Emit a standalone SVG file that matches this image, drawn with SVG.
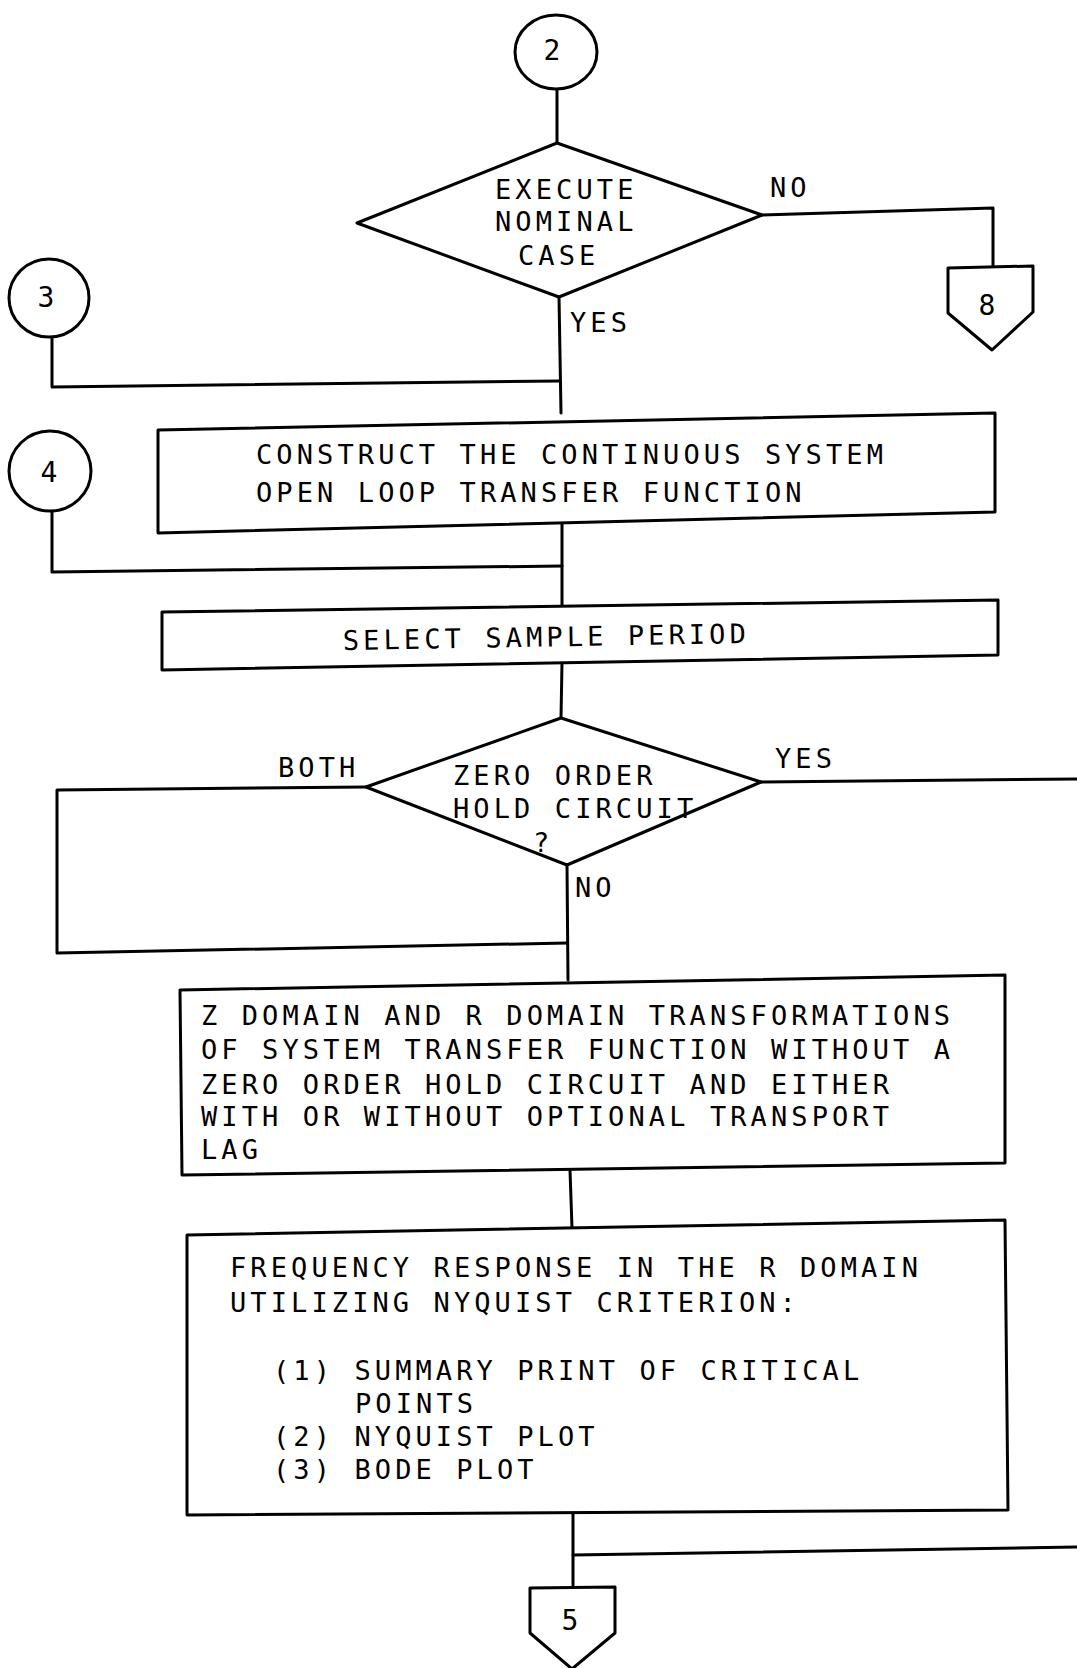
<svg xmlns="http://www.w3.org/2000/svg" width="1077" height="1668" viewBox="0 0 1077 1668">
<style>
.s{fill:none;stroke:#000;stroke-width:3;stroke-linejoin:round;stroke-linecap:round}
.n{fill:#fff;stroke:#000;stroke-width:3;stroke-linejoin:round}
.t{font-family:"DejaVu Sans Mono","Liberation Mono",monospace;font-size:27px;letter-spacing:4.1px;fill:#000}
.d{font-family:"DejaVu Sans Mono","Liberation Mono",monospace;font-size:28px;fill:#000;text-anchor:middle}
</style>
<rect width="1077" height="1668" fill="#fff"/>
<g id="connectors">
<path class="s" d="M557 88 L557 143"/>
<path class="s" d="M762 215 L993 208 L993 268"/>
<path class="s" d="M559 297 L561 413"/>
<path class="s" d="M52 337 L52 387 L560 381"/>
<path class="s" d="M52 512 L52 572 L562 566"/>
<path class="s" d="M562 524 L562 606"/>
<path class="s" d="M562 663 L561 718"/>
<path class="s" d="M761 782 L1077 779"/>
<path class="s" d="M366 787 L57 790 L57 953 L567 943"/>
<path class="s" d="M567 865 L568 980"/>
<path class="s" d="M570 1170 L572 1228"/>
<path class="s" d="M573 1513 L573 1588"/>
<path class="s" d="M573 1555 L1077 1547"/>
<text class="t" x="570" y="332">YES</text>
<text class="t" x="770" y="197">NO</text>
<text class="t" x="278" y="777">BOTH</text>
<text class="t" x="775" y="768">YES</text>
<text class="t" x="575" y="897">NO</text>
</g>
<g id="c2">
<ellipse class="n" cx="556" cy="52" rx="41" ry="37"/>
<text class="d" x="552" y="60" font-size="30">2</text>
</g>
<g id="d1">
<polygon class="n" points="557,143 762,215 559,297 357,223"/>
<text class="t" x="495" y="199">EXECUTE</text>
<text class="t" x="495" y="231">NOMINAL</text>
<text class="t" x="518" y="265">CASE</text>
</g>
<g id="c8">
<polygon class="n" points="948,268 1033,266 1033,312 992,350 948,313"/>
<text class="d" x="987" y="315" font-size="30">8</text>
</g>
<g id="c3">
<ellipse class="n" cx="49" cy="298" rx="40" ry="39"/>
<text class="d" x="46" y="307">3</text>
</g>
<g id="c4">
<ellipse class="n" cx="50" cy="471" rx="41" ry="40"/>
<text class="d" x="49" y="482">4</text>
</g>
<g id="b1">
<polygon class="n" points="158,430 995,413 995,512 158,533"/>
<text class="t" x="256" y="464">CONSTRUCT THE CONTINUOUS SYSTEM</text>
<text class="t" x="256" y="502">OPEN LOOP TRANSFER FUNCTION</text>
</g>
<g id="b2">
<polygon class="n" points="162,612 998,600 998,655 162,670"/>
<text class="t" x="343" y="650" transform="rotate(-1 345 650)">SELECT SAMPLE PERIOD</text>
</g>
<g id="d2">
<polygon class="n" points="561,718 761,782 567,865 366,787"/>
<text class="t" x="453" y="785">ZERO ORDER</text>
<text class="t" x="453" y="818">HOLD CIRCUIT</text>
<text class="t" x="533" y="852">?</text>
</g>
<g id="b3">
<polygon class="n" points="180,990 1005,975 1005,1163 182,1175"/>
<text class="t" x="201" y="1025">Z DOMAIN AND R DOMAIN TRANSFORMATIONS</text>
<text class="t" x="201" y="1059">OF SYSTEM TRANSFER FUNCTION WITHOUT A</text>
<text class="t" x="201" y="1094">ZERO ORDER HOLD CIRCUIT AND EITHER</text>
<text class="t" x="201" y="1126">WITH OR WITHOUT OPTIONAL TRANSPORT</text>
<text class="t" x="201" y="1159">LAG</text>
</g>
<g id="b4">
<polygon class="n" points="187,1235 1005,1220 1008,1510 187,1515"/>
<text class="t" x="230" y="1277">FREQUENCY RESPONSE IN THE R DOMAIN</text>
<text class="t" x="230" y="1312">UTILIZING NYQUIST CRITERION:</text>
<text class="t" x="273" y="1380">(1) SUMMARY PRINT OF CRITICAL</text>
<text class="t" x="355" y="1413">POINTS</text>
<text class="t" x="273" y="1446">(2) NYQUIST PLOT</text>
<text class="t" x="273" y="1479">(3) BODE PLOT</text>
</g>
<g id="c5">
<polygon class="n" points="530,1588 615,1587 615,1633 572,1669 530,1633"/>
<text class="d" x="570" y="1630">5</text>
</g>
</svg>
